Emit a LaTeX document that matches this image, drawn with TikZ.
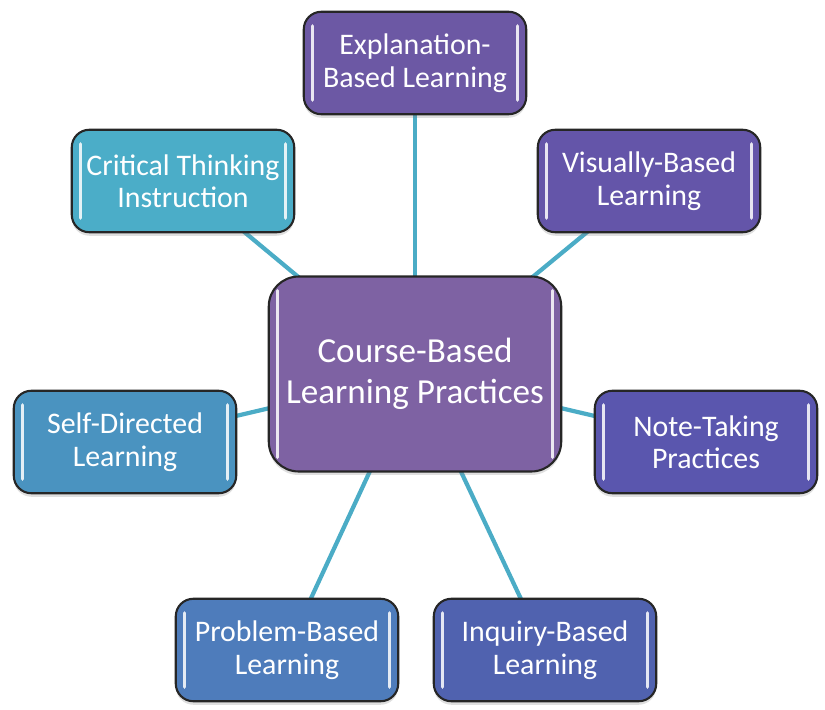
\documentclass[tikz,border=0pt]{standalone}
\usepackage{fontspec}
\setmainfont{Carlito}
\usetikzlibrary{backgrounds, shadows}
\definecolor{linkteal}{HTML}{4BACC6}
\definecolor{hubpurple}{HTML}{7E62A3}
\definecolor{cExpl}{HTML}{6C58A4}
\definecolor{cVisu}{HTML}{6455A9}
\definecolor{cNote}{HTML}{5A56AE}
\definecolor{cInq}{HTML}{5062AF}
\definecolor{cProb}{HTML}{4E7CBB}
\definecolor{cSelf}{HTML}{4A93C0}
\definecolor{cCrit}{HTML}{4BADC8}

\tikzset{
  gloss/.style={
    path picture={
      \draw[white, opacity=.85, line width=1.8pt, line cap=round]
        ([xshift=5pt, yshift=-8pt]path picture bounding box.north west) --
        ([xshift=5pt, yshift=8pt]path picture bounding box.south west);
      \draw[white, opacity=.85, line width=1.8pt, line cap=round]
        ([xshift=-5pt, yshift=-8pt]path picture bounding box.north east) --
        ([xshift=-5pt, yshift=8pt]path picture bounding box.south east);
    }},
  topic/.style={draw=black!85, line width=1.2pt, rounded corners=10pt,
    minimum width=4.45cm, minimum height=2.05cm, align=center,
    text=white, font=\fontsize{17}{18.5}\selectfont, gloss,
    drop shadow={shadow xshift=0pt, shadow yshift=-2pt, opacity=.25}},
  hub/.style={topic, rounded corners=17pt, minimum width=5.85cm,
    minimum height=3.9cm, font=\fontsize{20}{23}\selectfont},
  link/.style={linkteal, line width=2.4pt}
}

\begin{document}
\begin{tikzpicture}[x=0.02cm, y=-0.02cm]
    \useasboundingbox (0,0) rectangle (825,710);

    % centre
    \node[hub, fill=hubpurple] (hub) at (415,374) {Course-Based\\Learning Practices};

    % top row
    \node[topic, fill=cExpl] (expl) at (415,63) {Explanation-\\Based Learning};
    \node[topic, fill=cCrit] (crit) at (183,181) {Critical Thinking\\Instruction};
    \node[topic, fill=cVisu] (visu) at (649,181) {Visually-Based\\Learning};

    % middle row
    \node[topic, fill=cSelf] (self) at (125,442) {Self-Directed\\Learning};
    \node[topic, fill=cNote] (note) at (706,442) {Note-Taking\\Practices};

    % bottom row
    \node[topic, fill=cProb] (prob) at (287,650) {Problem-Based\\Learning};
    \node[topic, fill=cInq] (inq) at (545,650) {Inquiry-Based\\Learning};

    % spokes, behind the boxes
    \begin{pgfonlayer}{background}
        \foreach \n in {expl, crit, visu, self, note, prob, inq}
            \draw[link] (hub.center) -- (\n.center);
    \end{pgfonlayer}

\end{tikzpicture}
\end{document}
